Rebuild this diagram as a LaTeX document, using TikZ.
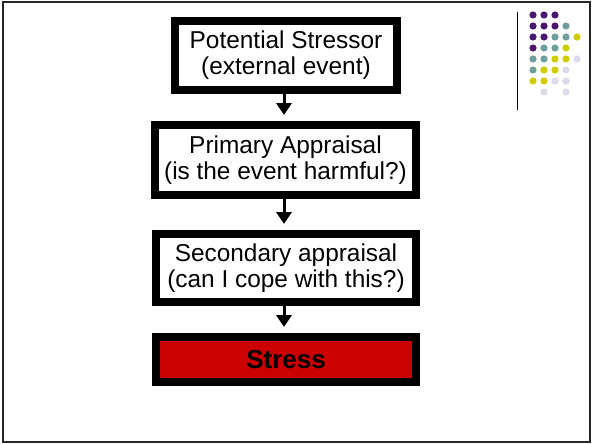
\documentclass[tikz,border=0pt]{standalone}
\usepackage{fontspec}
\setmainfont{Liberation Sans}
\usetikzlibrary{arrows.meta}
\newlength{\du}
\setlength{\du}{15\unitlength}
\definecolor{dotpurple}{rgb}{0.290000, 0.090000, 0.430000}
\definecolor{dotteal}{rgb}{0.430000, 0.620000, 0.620000}
\definecolor{dotyellow}{rgb}{0.820000, 0.800000, 0.000000}
\definecolor{dotlilac}{rgb}{0.855000, 0.855000, 0.925000}
\definecolor{stressred}{rgb}{0.800000, 0.000000, 0.000000}

\begin{document}
\begin{tikzpicture}[
  stagebox/.style={draw=black, line width=0.533333\du, fill=white, inner sep=0pt,
    align=center, font=\fontsize{24.4}{26}\selectfont},
  flowarrow/.style={line width=3pt, shorten >=6pt,
    -{Triangle[width=15pt,length=12pt]}},
  dotfill/.style={fill=#1, draw=none}
]
\pgftransformxscale{1.000000}
\pgftransformyscale{-1.000000}
\useasboundingbox (0\du,0\du) rectangle (39.466667\du,29.600000\du);
% slide frame
\draw[line width=0.133333\du, color=black!85] (0.200000\du,0.166667\du) rectangle (39.333333\du,29.433333\du);
% corner decoration
\draw[line width=0.066667\du] (34.466667\du,0.800000\du)--(34.466667\du,7.333333\du);
\foreach \c/\r/\col in {0/0/dotpurple,1/0/dotpurple,2/0/dotpurple,
    0/1/dotpurple,1/1/dotpurple,2/1/dotpurple,3/1/dotteal,
    0/2/dotpurple,1/2/dotpurple,2/2/dotteal,3/2/dotteal,4/2/dotyellow,
    0/3/dotpurple,1/3/dotteal,2/3/dotteal,3/3/dotyellow,
    0/4/dotteal,1/4/dotteal,2/4/dotyellow,3/4/dotyellow,4/4/dotlilac,
    0/5/dotteal,1/5/dotyellow,2/5/dotyellow,3/5/dotlilac,
    0/6/dotyellow,1/6/dotyellow,2/6/dotlilac,3/6/dotlilac,
    1/7/dotlilac,3/7/dotlilac}
  \fill[dotfill=\col] ({(35.533333+0.733333*\c)*\du},{(1.000000+0.733333*\r)*\du}) circle (0.240000\du);
% setfont left to latex
\node[stagebox, minimum width=14.800000\du, minimum height=4.600000\du] (stressor) at (19.066667\du,3.700000\du){Potential Stressor\\(external event)};
\node[stagebox, minimum width=17.400000\du, minimum height=4.666667\du] (primary) at (19.033333\du,10.666667\du){Primary Appraisal\\(is the event harmful?)};
\node[stagebox, minimum width=17.333333\du, minimum height=4.533333\du] (secondary) at (19.066667\du,17.866667\du){Secondary appraisal\\(can I cope with this?)};
\node[stagebox, fill=stressred, font=\fontsize{26}{28}\selectfont\bfseries, minimum width=17.333333\du, minimum height=3.000000\du] (stress) at (19.066667\du,23.966667\du){Stress};
% arrows
\draw[flowarrow] ([xshift=-2pt]stressor.south)--([xshift=-2pt]stressor.south |- primary.north);
\draw[flowarrow] ([xshift=-2pt]stressor.south |- primary.south)--([xshift=-2pt]stressor.south |- secondary.north);
\draw[flowarrow] ([xshift=-2pt]secondary.south)--([xshift=-2pt]secondary.south |- stress.north);
\end{tikzpicture}
\end{document}
